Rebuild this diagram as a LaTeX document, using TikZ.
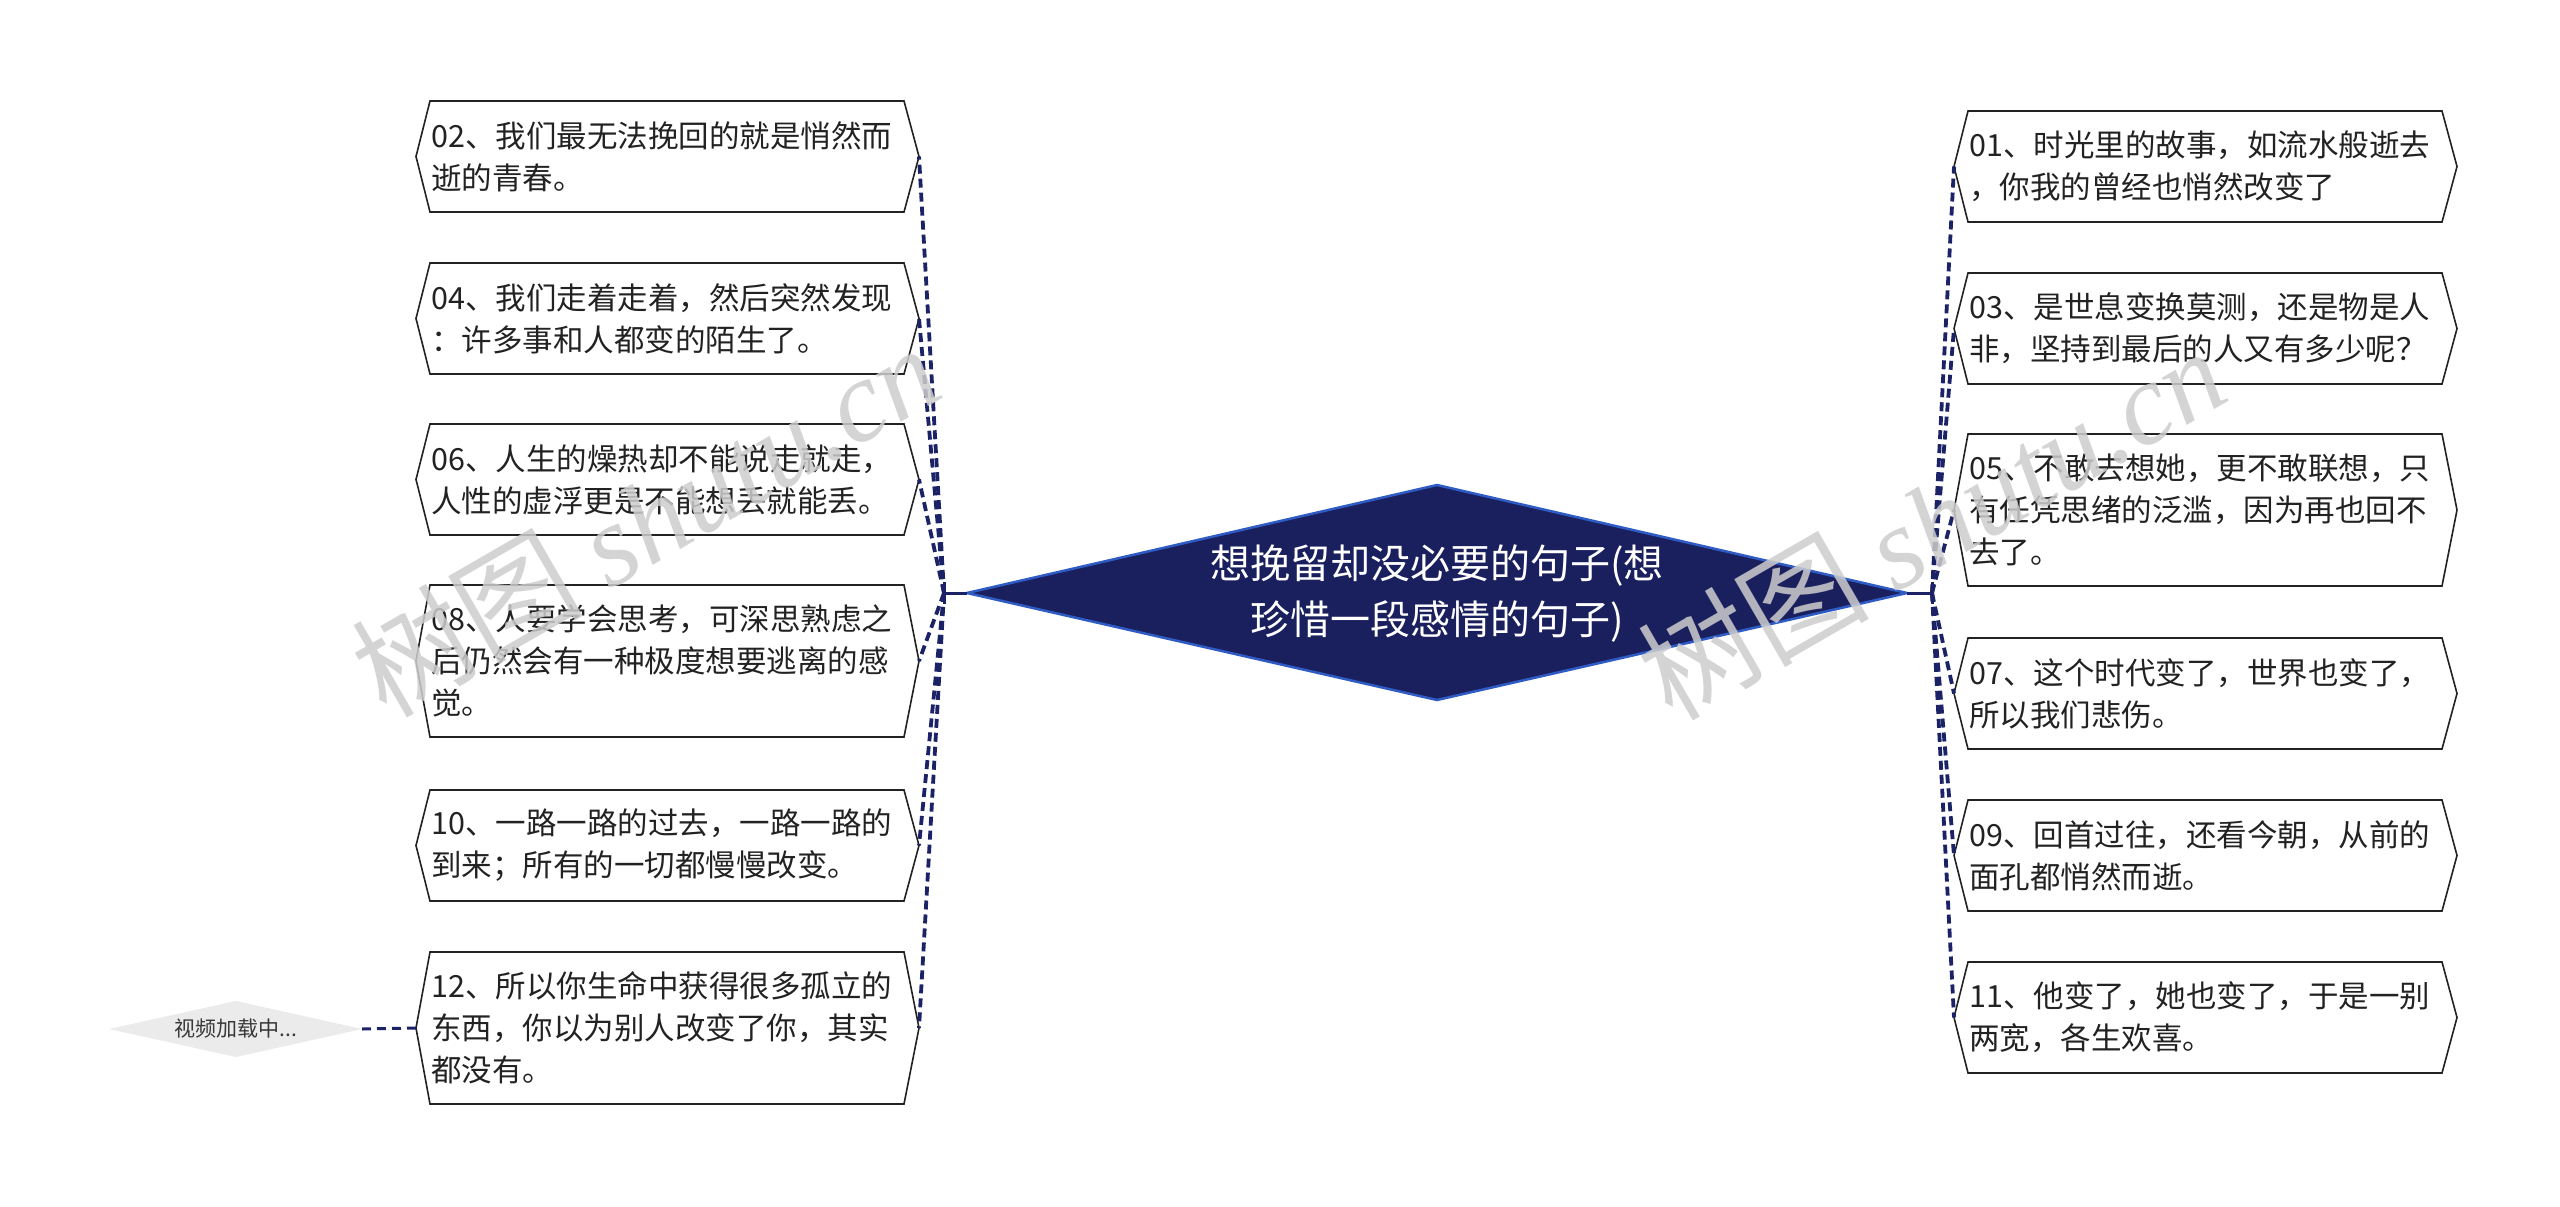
\documentclass[tikz,border=0pt]{standalone}
\usepackage{fontspec}
\setmainfont{Noto Sans CJK SC}
\newfontfamily\wmserif{Liberation Serif}
\definecolor{navy}{HTML}{1A1F5E}
\definecolor{navyline}{HTML}{1B2266}
\definecolor{diaedge}{HTML}{2F5CC4}
\definecolor{txt}{HTML}{222222}
\definecolor{vidfill}{HTML}{EBEBEB}
\definecolor{wmgray}{HTML}{CDCDCD}
\tikzset{
  boxline/.style={draw=txt, line width=1.6pt, fill=white, line join=miter},
  boxtext/.style={anchor=west, align=left, inner sep=0pt, text=txt, font=\fontsize{30.5}{42}\selectfont},
  conn/.style={draw=navyline, line width=3.8pt, dash pattern=on 9pt off 5pt},
  wm/.style={text=wmgray, opacity=0.85, inner sep=0pt, font=\fontsize{116}{116}\selectfont}
}
\newcommand\hexbox[6]{%
  \pgfmathsetmacro\hbmid{(#4+#5)/2}%
  \coordinate (#1W) at (#2,\hbmid);
  \coordinate (#1E) at (#3,\hbmid);
  \draw[boxline] (#1W) -- (#2+14,#4) -- (#3-15,#4) -- (#1E) -- (#3-15,#5) -- (#2+14,#5) -- cycle;
  \node[boxtext] (#1) at (#2+15,\hbmid) {#6};
}
\begin{document}
\begin{tikzpicture}[x=1pt,y=-1pt]
\useasboundingbox (0,0) rectangle (2560,1207);
\fill[white] (0,0) rectangle (2560,1207);

% junctions
\coordinate (JL) at (944,593);
\coordinate (JR) at (1932,593);

% left boxes
\hexbox{b02}{416}{919}{101}{212}{02、我们最无法挽回的就是悄然而\\逝的青春。}
\hexbox{b04}{416}{919}{263}{374}{04、我们走着走着，然后突然发现\\：许多事和人都变的陌生了。}
\hexbox{b06}{416}{919}{424}{535}{06、人生的燥热却不能说走就走，\\人性的虚浮更是不能想丢就能丢。}
\hexbox{b08}{416}{919}{585}{737}{08、人要学会思考，可深思熟虑之\\后仍然会有一种极度想要逃离的感\\觉。}
\hexbox{b10}{416}{919}{790}{901}{10、一路一路的过去，一路一路的\\到来；所有的一切都慢慢改变。}
\hexbox{b12}{416}{919}{952}{1104}{12、所以你生命中获得很多孤立的\\东西，你以为别人改变了你，其实\\都没有。}

% right boxes
\hexbox{b01}{1954}{2457}{111}{222}{01、时光里的故事，如流水般逝去\\，你我的曾经也悄然改变了}
\hexbox{b03}{1954}{2457}{273}{384}{03、是世息变换莫测，还是物是人\\非，坚持到最后的人又有多少呢？}
\hexbox{b05}{1954}{2457}{434}{586}{05、不敢去想她，更不敢联想，只\\有任凭思绪的泛滥，因为再也回不\\去了。}
\hexbox{b07}{1954}{2457}{638}{749}{07、这个时代变了，世界也变了，\\所以我们悲伤。}
\hexbox{b09}{1954}{2457}{800}{911}{09、回首过往，还看今朝，从前的\\面孔都悄然而逝。}
\hexbox{b11}{1954}{2457}{962}{1073}{11、他变了，她也变了，于是一别\\两宽，各生欢喜。}

% connectors
\foreach \b in {b02,b04,b06,b08,b10,b12} {\draw[conn] (JL) -- (\b E);}
\foreach \b in {b01,b03,b05,b07,b09,b11} {\draw[conn] (JR) -- (\b W);}

% central diamond
\coordinate (mW) at (967,593);
\coordinate (mE) at (1907,593);
\draw[fill=navy, draw=diaedge, line width=2.5pt] (mW) -- (1437,485) -- (mE) -- (1437,700) -- cycle;
\node[align=center, text=white, inner sep=0pt, font=\fontsize{40}{56}\selectfont] (main) at (1437,594) {想挽留却没必要的句子(想\\珍惜一段感情的句子)};
\draw[navyline, line width=3pt] (JL) -- (mW);
\draw[navyline, line width=3pt] (JR) -- (mE);
\draw[navyline, line width=3pt] (944,582) -- (944,604);
\draw[navyline, line width=3pt] (1932,582) -- (1932,604);

% video loading diamond
\coordinate (vE) at (362,1029);
\fill[vidfill] (109,1029) -- (236,1001) -- (vE) -- (236,1057) -- cycle;
\node[text=txt!90, inner sep=0pt, font=\fontsize{21}{24}\selectfont] (vid) at (236,1029) {视频加载中...};
\draw[navyline, line width=3pt, dash pattern=on 9pt off 6pt] (vE) -- (b12W);

% watermarks
\node[wm, rotate=30] (wm1) at (645,519) {树图 {\wmserif\itshape shutu.cn}};
\node[wm, rotate=30] (wm2) at (1931,522) {树图 {\wmserif\itshape shutu.cn}};
\end{tikzpicture}
\end{document}
